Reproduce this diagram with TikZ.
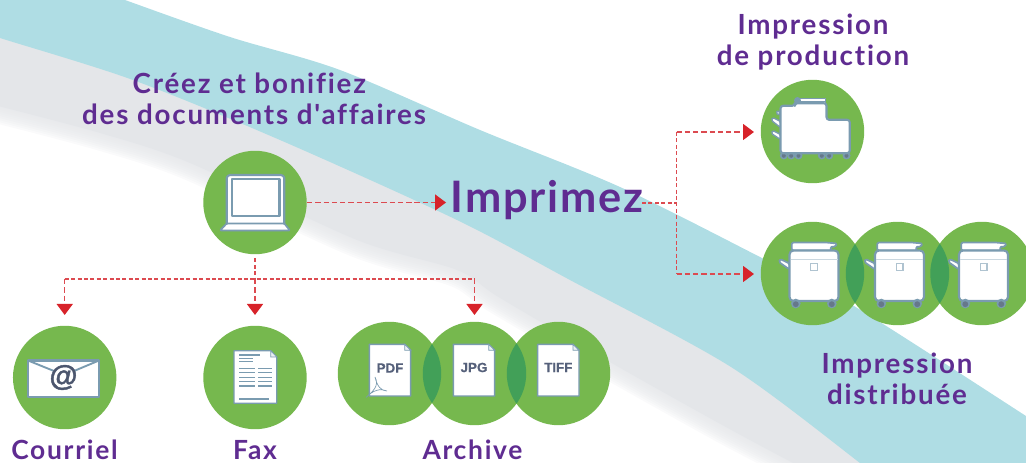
\documentclass[tikz,border=0pt]{standalone}
\usepackage{fontspec}
\usetikzlibrary{arrows.meta}
\setmainfont{Liberation Sans}
\newfontfamily\labfont[LetterSpace=6.5,Ligatures=NoCommon]{Lato}
\newfontfamily\bigfont[LetterSpace=4,Ligatures=NoCommon]{Lato}
\definecolor{teal}{HTML}{AFDDE4}
\definecolor{fog}{HTML}{E4E6E9}
\definecolor{leaf}{HTML}{76B84E}
\definecolor{lens}{HTML}{42A058}
\definecolor{edgeblue}{HTML}{7A9BB0}
\definecolor{plum}{HTML}{5F2C91}
\definecolor{redtip}{HTML}{D7232A}
\definecolor{reddash}{HTML}{DC4A50}
\definecolor{ink}{HTML}{55607A}
\definecolor{wheel}{HTML}{66788A}
\tikzset{
  disc/.style={circle,fill=leaf,minimum size=77.6pt,inner sep=0pt},
  lab/.style={font=\labfont\bfseries\fontsize{20.8}{23.25}\selectfont,text=plum,align=center,inner sep=0pt},
  sublab/.style={font=\labfont\bfseries\fontsize{19.8}{23.25}\selectfont,text=plum,inner sep=0pt,anchor=base},
  big/.style={font=\bigfont\bfseries\fontsize{32.5}{36}\selectfont,text=plum,inner sep=0pt},
  icon/.style={draw=edgeblue,fill=white,line width=1.6pt,line join=round},
  thinline/.style={draw=edgeblue,line width=1.1pt},
  flow/.style={draw=reddash,line width=1.1pt,dash pattern=on 4pt off 2.2pt},
  fine/.style={draw=reddash,line width=.8pt,dash pattern=on 3pt off 1.8pt},
  tip/.style={-{Triangle[length=8.25pt,width=12pt,color=redtip]}},
  filetype/.style={font=\addfontfeature{FakeBold=0.6}\bfseries\fontsize{10}{12}\selectfont,text=ink,inner sep=0pt},
}
\newcommand{\smallfile}[2]{%
  \begin{scope}[shift={(#1,#2)}]
    \path[icon,line width=1.1pt] (-20.7,-25.8) -- (14.7,-25.8) -- (20.7,-20) -- (20.7,25.8) -- (-20.7,25.8) -- cycle;
    \path[draw=edgeblue,fill=white!85!edgeblue,line width=.6pt] (14.7,-25.8) -- (14.7,-20) -- (20.7,-20) -- cycle;
  \end{scope}}
\newcommand{\copier}[1]{%
  \begin{scope}[shift={(#1)}]
    \path[icon,rounded corners=1pt,line width=1.3pt] (-23,-10) -- (-32.5,-14.5) -- (-33.5,-11.5) -- (-23,-4) -- cycle;
    \path[icon,rounded corners=1pt,line width=1.3pt] (-20.7,-23) -- (-20.7,-31) -- (13.7,-31) -- (24.5,-30) -- (23,-27) -- (17.7,-26.5) -- (19,-23) -- cycle;
    \path[icon,rounded corners=3pt] (-23,-23) -- (26,-23) -- (26,27.5) -- (-23,27.5) -- cycle;
    \draw[draw=edgeblue!40,line width=1pt] (-22,-14) -- (25,-14);
    \draw[draw=edgeblue!60,line width=.8pt] (-1.7,-10) rectangle (5,-3.3);
    \fill[edgeblue] (-16.7,30) circle[radius=3.6pt];
    \fill[edgeblue] (19.3,30) circle[radius=3.6pt];
    \fill[wheel] (-16.7,30.7) circle[radius=2.2pt];
    \fill[wheel] (19.3,30.7) circle[radius=2.2pt];
  \end{scope}}
\begin{document}
\begin{tikzpicture}[x=0.75pt,y=-0.75pt]
\useasboundingbox (0,0) rectangle (1026,463);
\clip (0,0) rectangle (1026,463);
% background bands
\fill[fog] (-10,10) -- (300,110) -- (600,230) -- (850,420) -- (870,480) -- (800,480) -- plot[smooth] coordinates {(793,463) (724,426) (615,365) (500,298) (457,270) (357,240) (190,163) (100,133) (-10,104)} -- cycle;
\foreach \w in {26,23,20,17,14,11,8,5,2}
  \draw[fog,line width=\w pt,opacity=.18] plot[smooth] coordinates {(-10,104) (100,133) (190,163) (357,240) (457,270) (500,298) (615,365) (724,426) (793,463) (810,480)};
\fill[teal] plot[smooth] coordinates {(110,-6) (125,0) (230,37) (340,70) (480,130) (620,187) (760,257) (854,306) (1026,416) (1050,432)}
  -- (1050,480) -- plot[smooth] coordinates {(880,480) (860,463) (731,367) (570,280) (457,220) (280,140) (133,80) (0,38) (-10,34)} -- (-10,-10) -- cycle;
% discs
\node[disc] (laptop) at (255,202.5) {};
\node[disc] (mail) at (64.7,377.5) {};
\node[disc] (fax) at (255,377.5) {};
\node[disc] (pdf) at (389.5,373.5) {};
\node[disc] (jpg) at (474.5,373.5) {};
\node[disc] (tiff) at (558.5,373.5) {};
\node[disc] (prod) at (812.5,131.5) {};
\node[disc] (dist) at (812.5,273.5) {};
\node[disc] (distb) at (897.5,273.5) {};
\node[disc] (distc) at (982,273.5) {};
% overlaps
\begin{scope}\clip (pdf.center) circle[radius=38.8pt]; \fill[lens] (jpg.center) circle[radius=38.8pt];\end{scope}
\begin{scope}\clip (jpg.center) circle[radius=38.8pt]; \fill[lens] (tiff.center) circle[radius=38.8pt];\end{scope}
\begin{scope}\clip (dist.center) circle[radius=38.8pt]; \fill[lens] (distb.center) circle[radius=38.8pt];\end{scope}
\begin{scope}\clip (distb.center) circle[radius=38.8pt]; \fill[lens] (distc.center) circle[radius=38.8pt];\end{scope}
% laptop
\path[icon,rounded corners=2.5pt,line width=1.6pt] (226.7,230) -- (226.7,175) -- (284.3,175) -- (284.3,230) -- cycle;
\path[icon,line width=1.8pt] (231.7,179.3) rectangle (279.3,216);
\path[icon,rounded corners=.8pt,line width=1.3pt] (220,230.5) -- (226.7,223.5) -- (284.3,223.5) -- (290,230.5) -- cycle;
% envelope
\path[icon] (28,360.5) rectangle (99,396.7);
\draw[thinline,line width=1.4pt] (28,360.5) -- (54,371);
\draw[thinline,line width=1.4pt] (99,360.5) -- (74,371);
\node[font=\addfontfeature{FakeBold=1.5}\bfseries\fontsize{21.5}{24}\selectfont,text=ink!90!black,inner sep=0pt] at (63.5,377.5) {@};
% fax page
\path[icon,line width=.9pt] (234,350.7) -- (270.7,350.7) -- (276.7,357) -- (276.7,403.3) -- (234,403.3) -- cycle;
\path[draw=edgeblue,fill=white!85!edgeblue,line width=.5pt] (270.7,350.7) -- (270.7,357) -- (276.7,357) -- cycle;
\draw[thinline] (239.3,355) -- (260,355);
\draw[thinline] (239.3,358.3) -- (253.3,358.3);
\draw[thinline] (239.3,361.7) -- (253.3,361.7);
\foreach \yy in {368.3,372.7,377.3,381.7,386} {
  \draw[thinline] (239.3,\yy) -- (255,\yy);
  \draw[thinline] (258.3,\yy) -- (271.7,\yy);
}
\draw[thinline] (239.3,399) -- (269.3,399);
% archive files
\smallfile{390}{370.2}
\smallfile{474}{370.2}
\smallfile{558.3}{370.2}
\node[filetype] at (390,368) {PDF};
\node[filetype] at (474,367.5) {JPG};
\node[filetype] at (558.3,367.5) {TIFF};
\draw[edgeblue,line width=.5pt] (366,397.5) .. controls (372,392) and (380,386) .. (375,377) .. controls (377,386) and (381,391) .. (387,391) .. controls (381,388) and (373,390) .. (366,397.5);
% production printer
\begin{scope}[shift={(812.5,131.5)}]
  \foreach \wx in {-28.7,-21.3,-14,9.3,16.7,34} {
    \fill[edgeblue] (\wx,24) circle[radius=3pt];
    \fill[wheel] (\wx,24.3) circle[radius=1.5pt];
  }
  \path[icon,line width=.9pt] (-14,-28) rectangle (13,-33);
  \draw[edgeblue,line width=.6pt] (-15,-30.5) -- (13,-30.5);
  \fill[edgeblue] (-15,-31) circle[radius=2.6pt];
  \path[icon,line width=1pt,rounded corners=1pt] (-32,-10) -- (-40,-14) -- (-41,-11) -- (-32,-4) -- cycle;
  \path[icon,line width=1pt,rounded corners=1pt] (-32,3) -- (-40,-1) -- (-41,2) -- (-32,8) -- cycle;
  \path[icon,line width=1pt,rounded corners=1pt] (-32,-19) -- (-36,-21) -- (-35,-16) -- cycle;
  \path[icon,rounded corners=2pt] (-32,21.7) -- (-32,-25.7) -- (-17.7,-25.7) -- (-17.7,-28.3) -- (14,-28.3) -- (14,-11.7) -- (37.3,-11.7) -- (37.3,21.7) -- cycle;
\end{scope}
% copiers
\copier{812.5,273.5}
\copier{898,273.5}
\copier{982,273.5}
% labels
\node[lab] (create) at (254,98.5) {Créez et bonifiez\hspace*{7pt}\\des documents d'affaires};
\node[big,anchor=base] (print) at (547,213) {Imprimez};
\node[lab] (labprod) at (813,42) {Impression\\de production};
\node[lab] (labdist) at (897,379) {Impression\\distribuée};
\node[sublab] (labmail) at (64.5,460) {Courriel};
\node[sublab] (labfax) at (255,460) {Fax};
\node[sublab] (labarch) at (472.5,460) {Archive};
% connectors
\coordinate (bus) at (255,279);
\coordinate (turn) at (676.5,203);
\coordinate (jpgtop) at (474.5,279);
\draw[flow,tip,shorten >=3.5pt] (laptop.east) -- (print.west |- laptop.east);
\draw[fine] (laptop.south) ++(0,4) -- (bus);
\draw[flow,tip] (bus) -- (255,315);
\draw[fine] (64.7,279) -- (jpgtop);
\draw[flow,tip] (64.7,279) -- (64.7,315);
\draw[flow,tip] (jpgtop) -- (474.5,315);
\draw[fine] (642,203) -- (turn);
\draw[fine] (676.5,132) -- (676.5,274);
\draw[flow,tip] (676.5,132) -- (754,132);
\draw[flow,tip] (676.5,274) -- (754,274);
\end{tikzpicture}
\end{document}
